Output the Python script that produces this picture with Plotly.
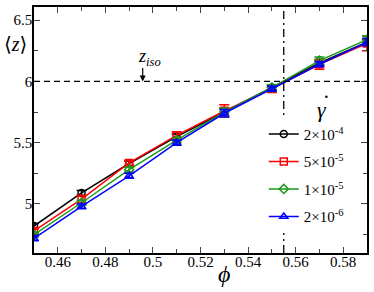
import plotly.graph_objects as go

phi = [0.45, 0.47, 0.49, 0.51, 0.53, 0.55, 0.57, 0.59]
rates = ["2×10<sup>-4</sup>", "5×10<sup>-5</sup>", "1×10<sup>-5</sup>", "2×10<sup>-6</sup>"]
z_2e4 = [4.82, 5.09, 5.33, 5.55, 5.75, 5.95, 6.15, 6.32]
z_5e5 = [4.78, 5.04, 5.335, 5.56, 5.76, 5.94, 6.14, 6.31]
z_1e5 = [4.75, 5.01, 5.28, 5.52, 5.75, 5.95, 6.17, 6.34]
z_2e6 = [4.72, 4.98, 5.23, 5.50, 5.74, 5.94, 6.14, 6.32]
err_2e4 = [0.02, 0.02, 0.02, 0.02, 0.03, 0.02, 0.02, 0.02]
err_5e5 = [0.02, 0.03, 0.02, 0.03, 0.05, 0.03, 0.04, 0.06]
err_1e5 = [0.02, 0.02, 0.02, 0.02, 0.03, 0.02, 0.03, 0.03]
err_2e6 = [0.02, 0.02, 0.02, 0.02, 0.03, 0.02, 0.02, 0.03]
z_iso = 6.0
phi_c = 0.555

series = [
    (rates[0], z_2e4, err_2e4, "black", "circle-open"),
    (rates[1], z_5e5, err_5e5, "red", "square-open"),
    (rates[2], z_1e5, err_1e5, "#1a9a1a", "diamond-open"),
    (rates[3], z_2e6, err_2e6, "blue", "triangle-up-open"),
]

font = 'Liberation Serif, "DejaVu Serif", serif'

fig = go.Figure()
for i, (name, ys, es, col, sym) in enumerate(series):
    fig.add_trace(go.Scatter(
        x=phi, y=ys, name=name, mode="lines+markers", legendgroup=f"g{i}",
        line=dict(color=col, width=1.5),
        marker=dict(symbol=sym, size=7, color=col, line=dict(width=1.5, color=col)),
        error_y=dict(type="data", array=es, color=col, thickness=1.5, width=5),
    ))

fig.add_shape(type="line", xref="paper", x0=0, x1=1, yref="y", y0=z_iso, y1=z_iso,
              line=dict(color="black", width=1.3, dash="6px,4px"))
fig.add_shape(type="line", xref="x", x0=phi_c, x1=phi_c, yref="paper", y0=0, y1=1,
              line=dict(color="black", width=1.3, dash="8px,4px,2px,4px"))

fig.add_annotation(x=0.4957, y=z_iso, xref="x", yref="y", ax=0, ay=-15,
                   text="", showarrow=True, arrowhead=2, arrowsize=1, arrowwidth=1.2, arrowcolor="black")
fig.add_annotation(x=0.4985, y=6.195, xref="x", yref="y", text="<i>z<sub>iso</sub></i>",
                   showarrow=False, font=dict(family=font, size=18, color="black"))
fig.add_annotation(x=-0.096, y=0.85, xref="paper", yref="paper", xanchor="left", yanchor="middle",
                   text="⟨<i>z</i>⟩", showarrow=False,
                   font=dict(family=font, size=20, color="black"))
# legend title: gamma-dot
fig.add_annotation(x=0.865, y=0.585, xref="paper", yref="paper", xanchor="center", yanchor="middle",
                   text="<i>γ</i>", showarrow=False, font=dict(family=font, size=22, color="black"))
fig.add_annotation(x=0.877, y=0.635, xref="paper", yref="paper", xanchor="center", yanchor="middle",
                   text="·", showarrow=False, font=dict(family=font, size=20, color="black"))
# x-axis title
fig.add_annotation(x=0.57, y=-0.086, xref="paper", yref="paper", xanchor="center", yanchor="middle",
                   text="<i>ϕ</i>", showarrow=False, font=dict(family=font, size=24, color="black"))

fig.update_layout(
    width=374, height=292,
    margin=dict(l=34, r=7, t=5, b=39),
    paper_bgcolor="white", plot_bgcolor="white",
    font=dict(family=font, size=15, color="black"),
    showlegend=True,
    legend=dict(x=0.69, y=0.55, xanchor="left", yanchor="top", bgcolor="white",
                font=dict(family=font, size=15), tracegroupgap=5, itemwidth=30),
    xaxis=dict(range=[0.45, 0.59], tick0=0.46, dtick=0.02, ticks="inside", ticklen=6,
               showline=True, linecolor="black", linewidth=1.5, mirror="ticks",
               showgrid=False, zeroline=False, tickfont=dict(family=font, size=15),
               ticklabelstandoff=-6,
               minor=dict(dtick=0.01, ticks="inside", ticklen=4, showgrid=False)),
    yaxis=dict(range=[4.6, 6.607], tick0=5, dtick=0.5, ticks="inside", ticklen=6,
               showline=True, linecolor="black", linewidth=1.5, mirror="ticks",
               showgrid=False, zeroline=False, tickfont=dict(family=font, size=15),
               ticklabelstandoff=-3,
               minor=dict(dtick=0.25, ticks="inside", ticklen=4, showgrid=False)),
)

fig.write_html("out.html", config={"displayModeBar": False},
               post_script="document.body.style.margin='0';document.body.style.padding='0';")
